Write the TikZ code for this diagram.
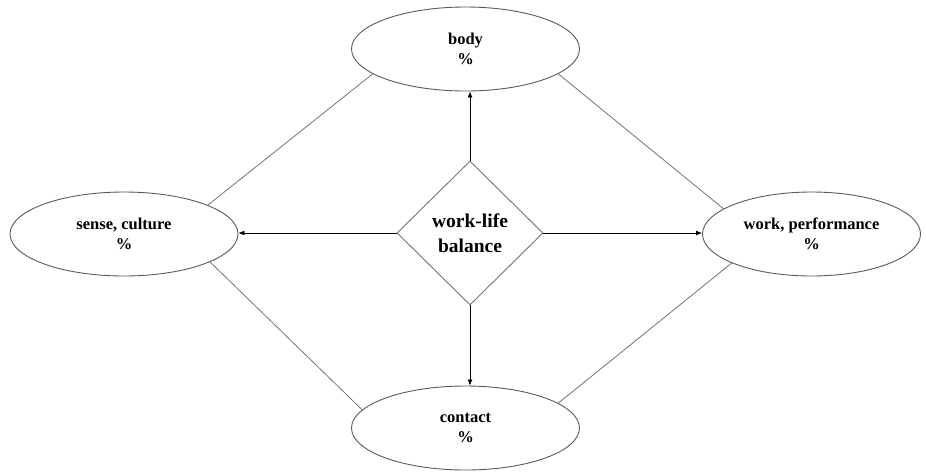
\documentclass[tikz,border=0pt]{standalone}
\usepackage{fontspec}
\setmainfont{Liberation Serif}
\usetikzlibrary{shapes.geometric,arrows.meta}
\begin{document}
\begin{tikzpicture}[x=1pt,y=-1pt,
  oval/.style={ellipse,draw=black!65,line width=0.9pt,minimum width=228pt,minimum height=84pt,inner sep=0pt,align=center,font=\fontsize{16.5}{19.5}\selectfont\bfseries},
  dia/.style={diamond,draw=black!55,line width=0.9pt,minimum width=146pt,minimum height=144pt,inner sep=0pt,align=center,font=\fontsize{19.5}{25}\selectfont\bfseries},
  arr/.style={-{Latex[length=6pt,width=5pt]},line width=0.8pt,black},
  link/.style={draw=black!55,line width=0.8pt}]
\useasboundingbox (0,0) rectangle (926,472);
\node[oval] (body) at (465.5,49) {body\\\%};
\node[oval] (sense) at (124,234) {sense, culture\\\%};
\node[oval,minimum width=218pt] (work) at (811.5,234) {work, performance\\\%};
\node[oval] (contact) at (465.5,428) {contact\\\%};
\node[dia] (wlb) at (470,233) {work-life\\balance};
\draw[arr] (wlb.north) -- (wlb.north |- body.south);
\draw[arr] (wlb.south) -- (wlb.south |- contact.north);
\draw[arr] (wlb.west) -- (sense.east |- wlb.west);
\draw[arr] (wlb.east) -- (work.west |- wlb.east);
\draw[link] (body.195) -- (sense.19);
\draw[link] (body.345) -- (work.164);
\draw[link] (sense.342) -- (contact.170);
\draw[link] (work.200) -- (contact.15);
\end{tikzpicture}
\end{document}
